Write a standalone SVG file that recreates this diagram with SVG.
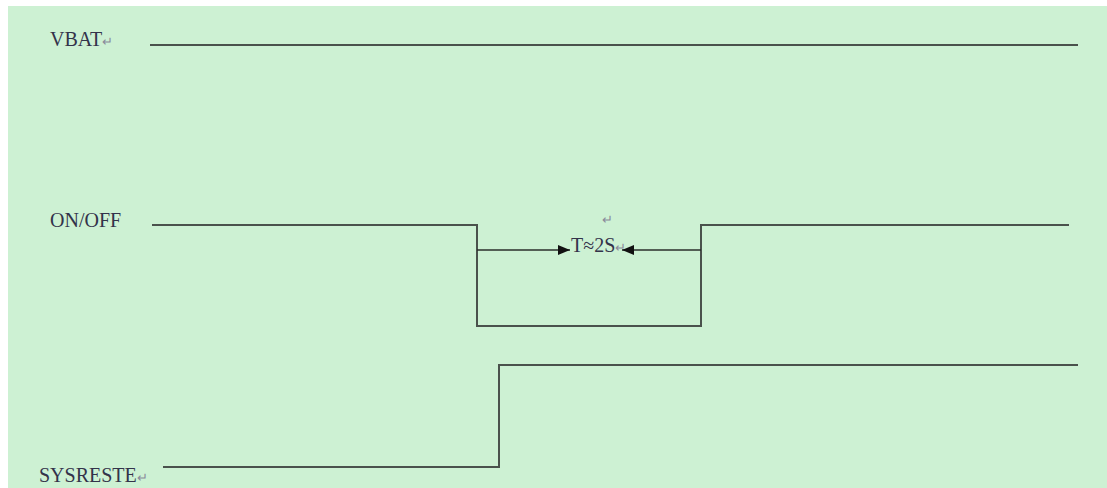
<svg xmlns="http://www.w3.org/2000/svg" width="1107" height="488" viewBox="0 0 1107 488">
<style>
.bg{fill:#cdf1d3}
.sig{fill:none;stroke:#4a524c;stroke-width:2;stroke-linejoin:miter}
.arr{fill:none;stroke:#2a2e2b;stroke-width:1.5}
.lbl{font-family:"Liberation Serif","Times New Roman",serif;font-size:20px;fill:#33334a}
.mk{font-family:"Liberation Serif",serif;font-size:13px;fill:#8a8a9a}
</style>
<defs>
<marker id="ah" viewBox="0 0 12 10" refX="12" refY="5" markerWidth="12" markerHeight="10" markerUnits="userSpaceOnUse" orient="auto">
<path d="M0,0 L12,5 L0,10 z" fill="#111"/>
</marker>
</defs>
<rect class="bg" x="8" y="6" width="1099" height="482"/>
<g id="vbat">
<text class="lbl" x="50" y="46">VBAT<tspan class="mk">↵</tspan></text>
</g>
<g id="onoff">
<text class="lbl" x="50" y="227">ON/OFF</text>
</g>
<g id="sysreste">
<text class="lbl" x="39" y="482">SYSRESTE<tspan class="mk">↵</tspan></text>
</g>
<g id="timing">
<text class="mk" x="602" y="224">↵</text>
<text class="lbl" x="571" y="252">T≈2S<tspan class="mk">↵</tspan></text>
</g>
<g id="connectors">
<path class="sig" d="M150,45 H1078"/>
<path class="sig" d="M152,225 H477 V326 H701 V225 H1069"/>
<path class="sig" d="M163,467 H499 V365 H1078"/>
<path class="arr" d="M477,250 H570" marker-end="url(#ah)"/>
<path class="arr" d="M701,250 H622" marker-end="url(#ah)"/>
</g>
</svg>
